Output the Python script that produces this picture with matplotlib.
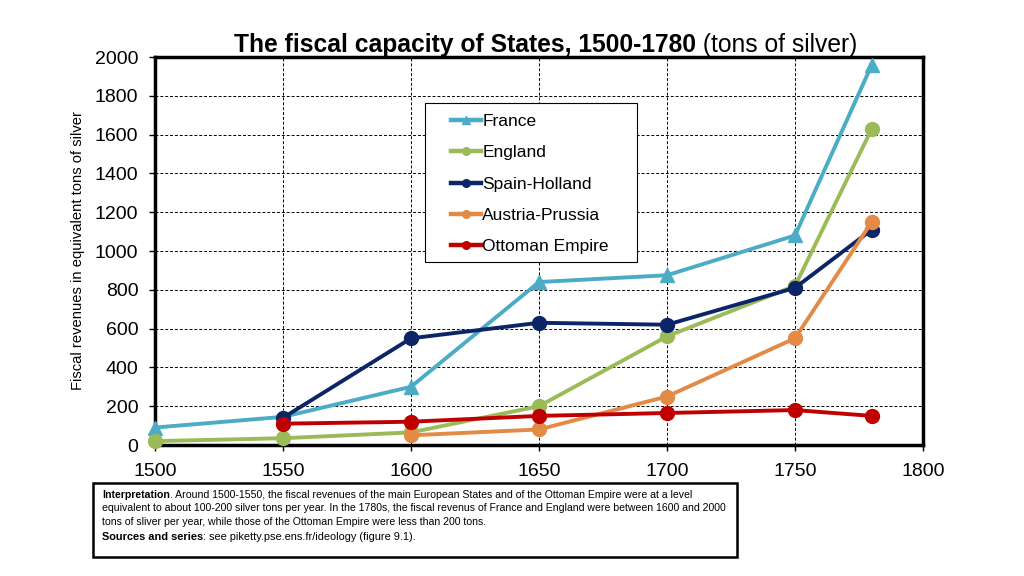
import matplotlib
matplotlib.use("Agg")
import matplotlib.pyplot as plt
import numpy as np
from matplotlib.patches import Rectangle

plt.rcParams['font.family'] = ['Liberation Sans', 'DejaVu Sans']

years = [1500, 1550, 1600, 1650, 1700, 1750, 1780]
france = [90, 145, 300, 840, 875, 1080, 1960]
england = [20, 35, 65, 200, 560, 820, 1630]
spain_holland = [np.nan, 140, 550, 630, 620, 810, 1110]
austria_prussia = [np.nan, np.nan, 50, 80, 250, 550, 1150]
ottoman = [np.nan, 110, 120, 150, 165, 180, 150]

series = [
    ("France", france, "#4BACC6", "^"),
    ("England", england, "#9BBB59", "o"),
    ("Spain-Holland", spain_holland, "#0B2567", "o"),
    ("Austria-Prussia", austria_prussia, "#E38A47", "o"),
    ("Ottoman Empire", ottoman, "#C00000", "o"),
]

fig = plt.figure(figsize=(10.24, 5.76), dpi=100)
ax = fig.add_axes([155/1024, 1-445/576, 768/1024, 388/576])

for i, (name, vals, col, mk) in enumerate(series):
    ax.plot(years, vals, color=col, lw=2.8, marker=mk, ms=10 if mk == "o" else 10.5,
            label=name, zorder=3+i, clip_on=False)

ax.set_xlim(1500, 1800)
ax.set_ylim(0, 2000)
ax.set_xticks(range(1500, 1801, 50))
ax.set_yticks(range(0, 2001, 200))
ax.tick_params(axis='both', labelsize=14, direction='out', length=4, width=1, colors='black')
ax.tick_params(axis='x', pad=9)
ax.tick_params(axis='y', pad=8)
ax.grid(True, color='black', linestyle=(0, (3, 2)), linewidth=0.7)
ax.set_axisbelow(True)
for s in ax.spines.values():
    s.set_linewidth(2.5)
    s.set_color('black')

ax.set_ylabel("Fiscal revenues in equivalent tons of silver", fontsize=10.6, labelpad=7)

# Legend box (frame drawn separately to match padding)
box = Rectangle(((425-155)/768, (445-262)/388), (637-425)/768, (262-103)/388,
                transform=ax.transAxes, facecolor='white', edgecolor='black',
                linewidth=0.8, zorder=19, clip_on=False)
ax.add_patch(box)
leg = ax.legend(loc='upper left', bbox_to_anchor=((451-155)/768, (445-114)/388),
                borderaxespad=0, borderpad=0, fontsize=12.5, frameon=False,
                handlelength=1.75, handletextpad=0.05,
                labelspacing=0.93, markerscale=0.55)
leg.set_zorder(20)
for h in leg.legend_handles:
    h.set_linewidth(3.2)

fig.canvas.draw()
r = fig.canvas.get_renderer()

# Title
t1 = fig.text(0.0, 0.0, "The fiscal capacity of States, 1500-1780", fontsize=17.7,
              fontweight='bold', ha='left', va='baseline')
t2 = fig.text(0.0, 0.0, " (tons of silver)", fontsize=17.7, ha='left', va='baseline')
fig.canvas.draw()
w1 = t1.get_window_extent(r).width
w2 = t2.get_window_extent(r).width
x0 = 546 - (w1 + w2) / 2
t1.set_position((x0/1024, 1-52/576))
t2.set_position(((x0 + w1)/1024, 1-52/576))

# Bottom box
fig.patches.append(Rectangle((93/1024, 19/576), (737-93)/1024, (557-483)/576,
                             transform=fig.transFigure, fill=False, edgecolor='black',
                             linewidth=1.8))
fs = 7.55
lx = 102/1024
b1 = fig.text(lx, 1-498/576, "Interpretation", fontsize=fs, fontweight='bold', va='baseline')
fig.canvas.draw()
wb = b1.get_window_extent(r).width
fig.text((102 + wb)/1024, 1-498/576,
         ". Around 1500-1550, the fiscal revenues of the main European States and of the Ottoman Empire were at a level",
         fontsize=fs, va='baseline')
fig.text(lx, 1-511/576,
         "equivalent to about 100-200 silver tons per year. In the 1780s, the fiscal revenus of France and England were between 1600 and 2000",
         fontsize=fs, va='baseline')
fig.text(lx, 1-525/576,
         "tons of sliver per year, while those of the Ottoman Empire were less than 200 tons.",
         fontsize=fs, va='baseline')
s1 = fig.text(lx, 1-540/576, "Sources and series", fontsize=7.9, fontweight='bold',
              va='baseline', family=['Liberation Sans Narrow', 'Liberation Sans'])
fig.canvas.draw()
ws = s1.get_window_extent(r).width
fig.text((102 + ws)/1024, 1-540/576, ": see piketty.pse.ens.fr/ideology (figure 9.1).",
         fontsize=7.9, va='baseline', family=['Liberation Sans Narrow', 'Liberation Sans'])

fig.savefig("out.png", dpi=100)
